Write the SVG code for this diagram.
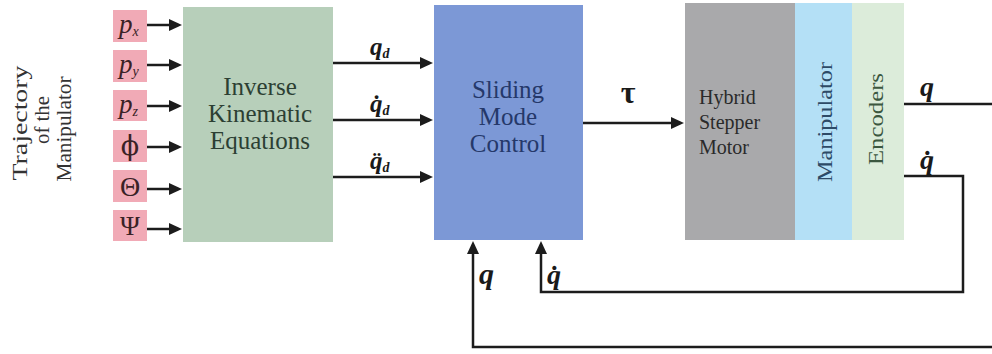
<svg xmlns="http://www.w3.org/2000/svg" width="992" height="354" viewBox="0 0 992 354">
<defs>
<style>
text{font-family:'Liberation Serif','Times New Roman',serif}
.pink{fill:#f1aab6}
.sym{fill:#3a2226}
.var{font-style:italic;font-weight:bold;fill:#1a1a1a}
.ik{font-size:25px;fill:#2c3f33;text-anchor:middle}
.smc{font-size:25px;fill:#25386a;text-anchor:middle}
.hsm{font-size:20px;fill:#2a2a2a}
.wire{fill:none;stroke:#1c1c1c;stroke-width:2.5}
</style>
<marker id="ah" markerUnits="userSpaceOnUse" markerWidth="13" markerHeight="12" refX="2" refY="6" orient="auto">
<path d="M0,0 L13,6 L0,12 z" fill="#1c1c1c"/>
</marker>
</defs>
<rect width="992" height="354" fill="#ffffff"/>

<g id="title" fill="#333">
<text font-size="20" text-anchor="middle" transform="translate(27,123) rotate(-90)" textLength="115" lengthAdjust="spacingAndGlyphs">Trajectory</text>
<text font-size="20" text-anchor="middle" transform="translate(49,120) rotate(-90)" textLength="48" lengthAdjust="spacingAndGlyphs">of the</text>
<text font-size="20" text-anchor="middle" transform="translate(71,129) rotate(-90)" textLength="105" lengthAdjust="spacingAndGlyphs">Manipulator</text>
</g>

<g id="in-px"><rect class="pink" x="113" y="10" width="34" height="32"/><text class="sym" x="119" y="33" font-size="27" font-style="italic">p<tspan font-size="14" dy="3">x</tspan></text></g>
<g id="in-py"><rect class="pink" x="113" y="50" width="34" height="32"/><text class="sym" x="119" y="73" font-size="27" font-style="italic">p<tspan font-size="14" dy="3">y</tspan></text></g>
<g id="in-pz"><rect class="pink" x="113" y="90" width="34" height="31"/><text class="sym" x="119" y="113" font-size="27" font-style="italic">p<tspan font-size="14" dy="3">z</tspan></text></g>
<g id="in-phi"><rect class="pink" x="113" y="130" width="34" height="32"/><text class="sym" x="130" y="155" font-size="27" text-anchor="middle" style="font-family:'DejaVu Serif',serif">ϕ</text></g>
<g id="in-theta"><rect class="pink" x="113" y="170" width="34" height="32"/><text class="sym" x="130" y="196" font-size="28" text-anchor="middle">Θ</text></g>
<g id="in-psi"><rect class="pink" x="113" y="210" width="34" height="31"/><text class="sym" x="130" y="235" font-size="27" text-anchor="middle">Ψ</text></g>

<g id="ik">
<rect x="183" y="7" width="150" height="235" fill="#b7cfba"/>
<text class="ik" x="260" y="95">Inverse</text>
<text class="ik" x="260" y="122">Kinematic</text>
<text class="ik" x="260" y="149">Equations</text>
</g>

<g id="smc">
<rect x="434" y="5" width="149" height="235" fill="#7c98d6"/>
<text class="smc" x="508" y="98">Sliding</text>
<text class="smc" x="508" y="125">Mode</text>
<text class="smc" x="508" y="152">Control</text>
</g>

<g id="motor">
<rect x="685" y="3" width="110" height="237" fill="#a9a9ab"/>
<text class="hsm" x="699" y="104">Hybrid</text>
<text class="hsm" x="699" y="129">Stepper</text>
<text class="hsm" x="699" y="154">Motor</text>
</g>
<g id="manipulator">
<rect x="795" y="3" width="57" height="237" fill="#b4e0f6"/>
<text font-size="20" fill="#2d4a66" text-anchor="middle" transform="translate(832,122) rotate(-90)" textLength="120" lengthAdjust="spacingAndGlyphs">Manipulator</text>
</g>
<g id="encoders">
<rect x="852" y="3" width="52" height="237" fill="#dcecda"/>
<text font-size="20" fill="#3b573f" text-anchor="middle" transform="translate(883,119) rotate(-90)" textLength="92" lengthAdjust="spacingAndGlyphs">Encoders</text>
</g>

<g id="connectors">
<path class="wire" marker-end="url(#ah)" d="M147,25 H171"/>
<path class="wire" marker-end="url(#ah)" d="M147,65 H171"/>
<path class="wire" marker-end="url(#ah)" d="M147,106 H171"/>
<path class="wire" marker-end="url(#ah)" d="M147,147 H171"/>
<path class="wire" marker-end="url(#ah)" d="M147,189 H171"/>
<path class="wire" marker-end="url(#ah)" d="M147,229 H171"/>
<path class="wire" marker-end="url(#ah)" d="M333,63 H422"/>
<path class="wire" marker-end="url(#ah)" d="M333,120 H422"/>
<path class="wire" marker-end="url(#ah)" d="M333,177 H422"/>
<path class="wire" marker-end="url(#ah)" d="M583,123 H673"/>
<path class="wire" d="M904,104 H992"/>
<path class="wire" marker-end="url(#ah)" d="M904,176 H963 V292 H541 V252"/>
<path class="wire" marker-end="url(#ah)" d="M992,347 H473 V252"/>
</g>

<g id="labels">
<text class="var" x="370" y="55" font-size="25">q<tspan font-size="14" dy="3">d</tspan></text>
<text class="var" x="370" y="112" font-size="25">q&#x307;<tspan font-size="14" dy="3">d</tspan></text>
<text class="var" x="370" y="169" font-size="25">q&#x308;<tspan font-size="14" dy="3">d</tspan></text>
<text x="628" y="103" font-size="32" font-weight="bold" fill="#1a1a1a" text-anchor="middle">τ</text>
<text class="var" x="920" y="96" font-size="28">q</text>
<text class="var" x="920" y="169" font-size="28">q&#x307;</text>
<text class="var" x="479" y="284" font-size="30">q</text>
<text class="var" x="547" y="284" font-size="28">q&#x307;</text>
</g>
</svg>
